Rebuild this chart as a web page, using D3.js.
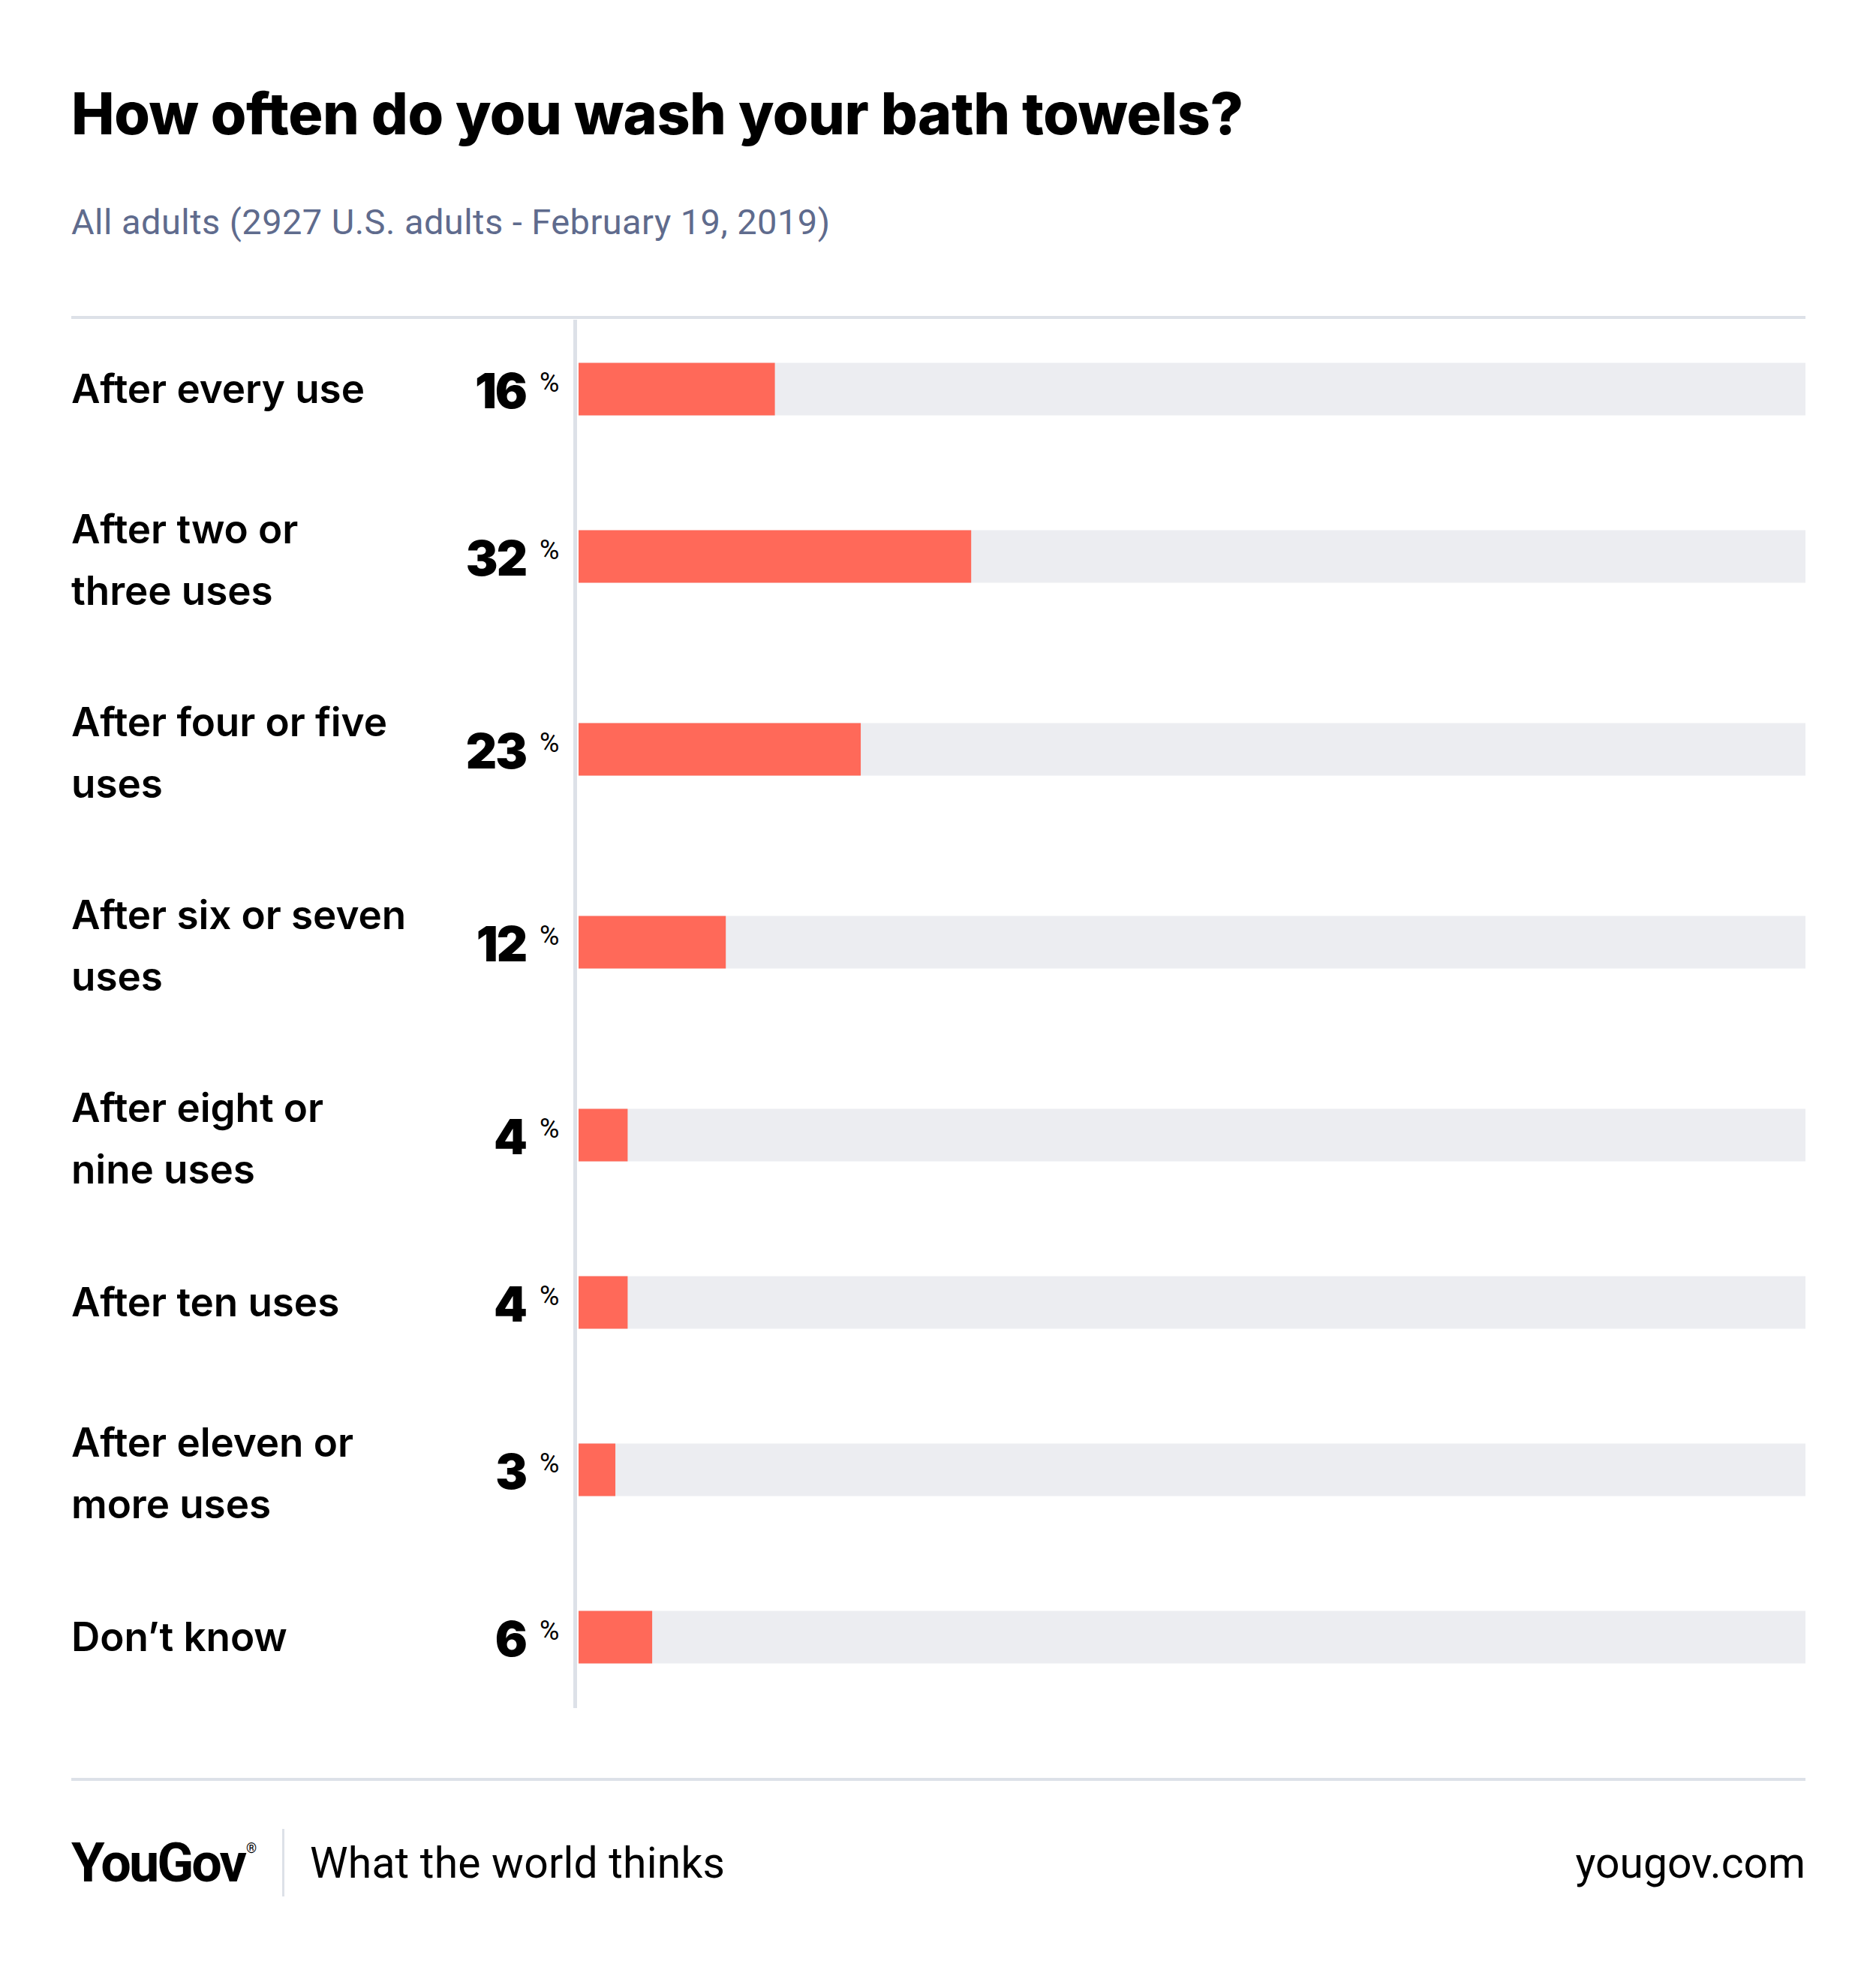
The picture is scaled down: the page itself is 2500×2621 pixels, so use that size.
<!DOCTYPE html>
<html>
<head>
<meta charset="utf-8">
<script src="https://cdn.jsdelivr.net/npm/d3@7"></script>
<style>
  html, body { margin: 0; padding: 0; background: #ffffff; }
  svg { display: block; }
</style>
</head>
<body>
<svg id="chart" width="2500" height="2621"></svg>
<script>
// ---- data ----
const title = "How often do you wash your bath towels?";
const subtitle = "All adults (2927 U.S. adults - February 19, 2019)";
const categories = [
  "After every use",
  "After two or three uses",
  "After four or five uses",
  "After six or seven uses",
  "After eight or nine uses",
  "After ten uses",
  "After eleven or more uses",
  "Don’t know"
];
const labelLines = [
  ["After every use"],
  ["After two or", "three uses"],
  ["After four or five", "uses"],
  ["After six or seven", "uses"],
  ["After eight or", "nine uses"],
  ["After ten uses"],
  ["After eleven or", "more uses"],
  ["Don’t know"]
];
const values = [16, 32, 23, 12, 4, 4, 3, 6];
const domainMax = 100;

// ---- layout ----
const W = 2500, H = 2621;
const left = 95, right = 2406;
const chartTop = 424;
const rowSingle = 189, rowDouble = 257;
const barH = 70;
const colors = { bar: "#ff6959", track: "#ecedf1", rule: "#dde1e8", sub: "#5f6b8d", text: "#000000" };
const FONT = "Roboto, 'Noto Sans', sans-serif";
const BOLD = "Inter, Roboto, sans-serif";

const svg = d3.select("#chart");
svg.append("rect").attr("width", W).attr("height", H).attr("fill", "#fff");

function fit(sel, target) {
  const w = sel.node().getComputedTextLength();
  const n = sel.text().length;
  if (n > 1) sel.attr("letter-spacing", (target - w) / (n - 1));
}

// title
const t = svg.append("text").attr("x", left).attr("y", 179)
  .attr("font-family", BOLD).attr("font-weight", 800).attr("font-size", 77)
  .attr("fill", colors.text).text(title);
fit(t, 1562);

const st = svg.append("text").attr("x", left).attr("y", 312)
  .attr("font-family", FONT).attr("font-weight", 400).attr("font-size", 47)
  .attr("fill", colors.sub).text(subtitle);
fit(st, 1011);

// rules
svg.append("rect").attr("x", left).attr("y", 421).attr("width", right - left).attr("height", 4).attr("fill", colors.rule);
svg.append("rect").attr("x", left).attr("y", 2369).attr("width", right - left).attr("height", 4).attr("fill", colors.rule);

// row positions via ordinal scale
const heights = labelLines.map(l => l.length > 1 ? rowDouble : rowSingle);
const centers = [];
let acc = chartTop;
heights.forEach(h => { centers.push(acc + h / 2); acc += h; });
const chartBottom = acc;
const y = d3.scaleOrdinal().domain(categories).range(centers);
const x = d3.scaleLinear().domain([0, domainMax]).range([771, right]);

// vertical axis line
svg.append("rect").attr("x", 764).attr("y", chartTop + 2).attr("width", 5)
  .attr("height", chartBottom - chartTop - 2).attr("fill", colors.rule);

const rows = svg.append("g").selectAll("g").data(categories).join("g");

// tracks
rows.append("rect")
  .attr("x", x(0)).attr("width", x(domainMax) - x(0))
  .attr("y", d => y(d) - barH / 2).attr("height", barH)
  .attr("fill", colors.track);
// bars
rows.append("rect")
  .attr("x", x(0)).attr("width", (d, i) => x(values[i]) - x(0))
  .attr("y", d => y(d) - barH / 2).attr("height", barH)
  .attr("fill", colors.bar);

// labels
const labels = rows.append("text")
  .attr("font-family", BOLD).attr("font-weight", 600).attr("font-size", 53)
  .attr("fill", colors.text);
labels.selectAll("tspan").data((d, i) => labelLines[i].map((s, j) => ({ s, j, n: labelLines[i].length, c: y(d) })))
  .join("tspan")
  .attr("x", left)
  .attr("y", o => o.c + 18 - (o.n - 1) * 36 + o.j * 82)
  .text(o => o.s);
// uniform letter spacing from first label
const firstT = labels.filter((d, i) => i === 0);
const w0 = firstT.node().getComputedTextLength();
labels.attr("letter-spacing", (391 - w0) / 14);

// values
rows.append("text")
  .attr("x", 701).attr("y", d => y(d) + 25)
  .attr("text-anchor", "end")
  .attr("font-family", BOLD).attr("font-weight", 900).attr("font-size", 64)
  .attr("letter-spacing", -2)
  .attr("fill", colors.text)
  .text((d, i) => values[i]);
rows.append("text")
  .attr("x", 719).attr("y", d => y(d) + 3)
  .attr("font-family", FONT).attr("font-weight", 400).attr("font-size", 36)
  .attr("fill", colors.text)
  .text("%");

// footer
const logo = svg.append("text").attr("x", left).attr("y", 2507)
  .attr("font-family", FONT).attr("font-weight", 700).attr("font-size", 72)
  .attr("letter-spacing", -3).attr("fill", colors.text);
logo.append("tspan").text("YouGov");
logo.append("tspan").attr("font-size", 18).attr("font-weight", 400).attr("dy", -38).attr("dx", 2).attr("letter-spacing", 0).text("®");

svg.append("rect").attr("x", 376).attr("y", 2437).attr("width", 3).attr("height", 90).attr("fill", colors.rule);

const tag = svg.append("text").attr("x", 413).attr("y", 2502)
  .attr("font-family", FONT).attr("font-weight", 400).attr("font-size", 57)
  .attr("fill", colors.text).text("What the world thinks");
fit(tag, 553);

const url = svg.append("text").attr("x", right).attr("y", 2502).attr("text-anchor", "end")
  .attr("font-family", FONT).attr("font-weight", 400).attr("font-size", 57)
  .attr("fill", colors.text).text("yougov.com");
</script>
</body>
</html>
